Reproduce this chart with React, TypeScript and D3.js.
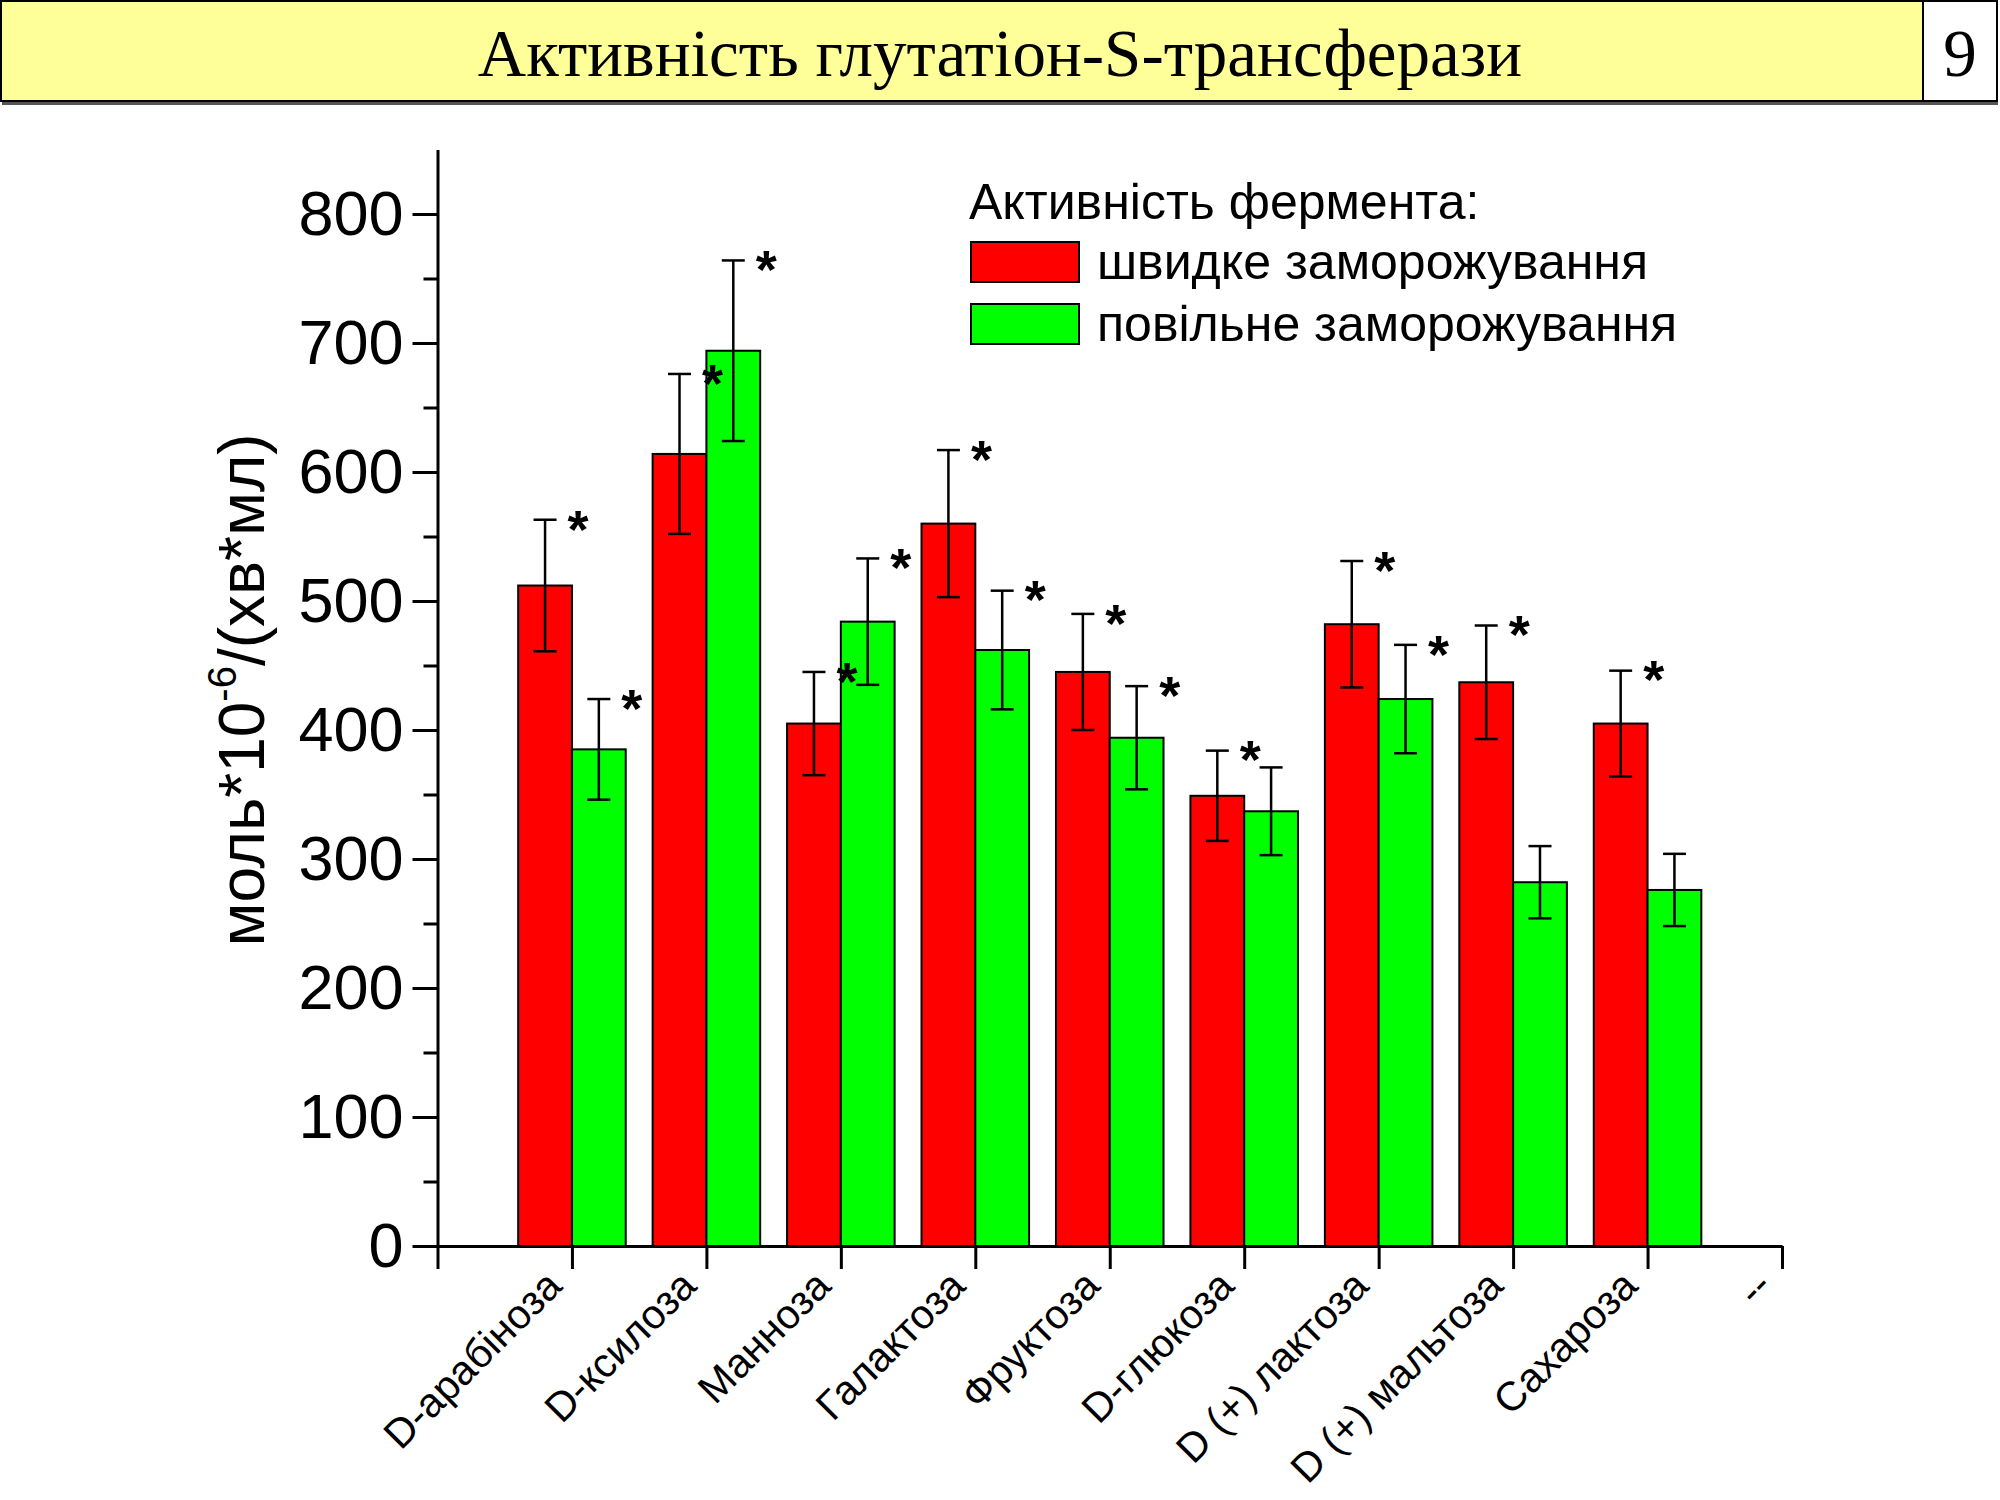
import React, { useEffect, useRef } from 'react';
import * as d3 from 'd3';

const categories = [
  'D-арабіноза', 'D-ксилоза', 'Манноза', 'Галактоза', 'Фруктоза',
  'D-глюкоза', 'D (+) лактоза', 'D (+) мальтоза', 'Сахароза', '--',
];
const fastValues = [512, 614, 405, 560, 445, 349, 482, 437, 405];
const fastErrors = [51, 62, 40, 57, 45, 35, 49, 44, 41];
const fastSignificant = [true, true, true, true, true, true, true, true, true];
const slowValues = [385, 694, 484, 462, 394, 337, 424, 282, 276];
const slowErrors = [39, 70, 49, 46, 40, 34, 42, 28, 28];
const slowSignificant = [true, true, true, true, true, false, true, false, false];
const yTicks = [0, 100, 200, 300, 400, 500, 600, 700, 800];
const yMinorTicks = [50, 150, 250, 350, 450, 550, 650, 750];

const seriesNames = ['швидке заморожування', 'повільне заморожування'];
const seriesColors = ['#ff0000', '#00ff00'];

const titleText = 'Активність глутатіон-S-трансферази';
const slideNumber = '9';
const legendTitle = 'Активність фермента:';

const SANS = '"Liberation Sans", Arial, sans-serif';
const SERIF = '"Liberation Serif", "Times New Roman", serif';

export default function App() {
  const ref = useRef<SVGSVGElement>(null);

  useEffect(() => {
    if (!ref.current) return;
    const svg = d3.select(ref.current);
    svg.selectAll('*').remove();

    const W = 2000;
    const H = 1500;
    svg.attr('width', W).attr('height', H);
    svg.append('rect').attr('width', W).attr('height', H).attr('fill', '#ffffff');

    // title bar
    svg.append('rect')
      .attr('x', 2).attr('y', 101).attr('width', 1996).attr('height', 4)
      .attr('fill', '#555555');
    svg.append('rect')
      .attr('x', 1).attr('y', 1).attr('width', 1922).attr('height', 100)
      .attr('fill', '#ffff99').attr('stroke', '#000').attr('stroke-width', 2);
    svg.append('rect')
      .attr('x', 1923).attr('y', 1).attr('width', 74).attr('height', 100)
      .attr('fill', '#ffffff').attr('stroke', '#000').attr('stroke-width', 2);
    svg.append('text')
      .attr('x', 1000).attr('y', 76)
      .attr('text-anchor', 'middle')
      .attr('font-family', SERIF).attr('font-size', 67)
      .text(titleText);
    svg.append('text')
      .attr('x', 1960).attr('y', 76)
      .attr('text-anchor', 'middle')
      .attr('font-family', SERIF).attr('font-size', 67)
      .text(slideNumber);

    // scales
    const x = d3.scaleLinear().domain([0, categories.length]).range([437.5, 1782]);
    const y = d3.scaleLinear().domain([0, 850]).range([1246, 149.5]);
    const barW = x(0.4) - x(0);

    const g = svg.append('g');

    const series = [
      { values: fastValues, errors: fastErrors, sig: fastSignificant, offset: -0.4, color: seriesColors[0] },
      { values: slowValues, errors: slowErrors, sig: slowSignificant, offset: 0, color: seriesColors[1] },
    ];

    // bars + error bars
    series.forEach(s => {
      const sg = g.append('g');
      sg.selectAll('rect')
        .data(s.values)
        .enter().append('rect')
        .attr('x', (d, i) => x(i + 1 + s.offset))
        .attr('y', d => y(d))
        .attr('width', barW)
        .attr('height', d => y(0) - y(d))
        .attr('fill', s.color)
        .attr('stroke', '#000')
        .attr('stroke-width', 2);

      s.values.forEach((v, i) => {
        const cx = x(i + 1 + s.offset) + barW / 2;
        const top = y(v + s.errors[i]);
        const bot = y(v - s.errors[i]);
        const eg = sg.append('g').attr('stroke', '#000').attr('stroke-width', 2.5);
        eg.append('line').attr('x1', cx).attr('x2', cx).attr('y1', top).attr('y2', bot);
        eg.append('line').attr('x1', cx - 11.5).attr('x2', cx + 11.5).attr('y1', top).attr('y2', top);
        eg.append('line').attr('x1', cx - 11.5).attr('x2', cx + 11.5).attr('y1', bot).attr('y2', bot);
      });
    });

    // significance marks, drawn on top of all bars
    const marks = g.append('g');
    series.forEach(s => {
      s.values.forEach((v, i) => {
        if (!s.sig[i]) return;
        const cx = x(i + 1 + s.offset) + barW / 2;
        const top = y(v + s.errors[i]);
        marks.append('text')
          .attr('x', cx + 33)
          .attr('y', top - 3 + 0.57 * 54)
          .attr('text-anchor', 'middle')
          .attr('font-family', SANS)
          .attr('font-weight', 'bold')
          .attr('font-size', 54)
          .text('*');
      });
    });

    // y axis
    const yAxis = g.append('g')
      .attr('transform', `translate(${x(0)},0)`)
      .call(d3.axisLeft(y).tickValues(yTicks).tickSize(25).tickSizeOuter(0).tickPadding(9));
    yAxis.select('.domain').attr('stroke-width', 3);
    yAxis.selectAll('.tick line').attr('stroke-width', 3);
    yAxis.selectAll('.tick text')
      .attr('font-family', SANS).attr('font-size', 63).attr('fill', '#000');

    const yMinor = g.append('g')
      .attr('transform', `translate(${x(0)},0)`)
      .call(d3.axisLeft(y).tickValues(yMinorTicks).tickSize(14).tickFormat(() => ''));
    yMinor.select('.domain').remove();
    yMinor.selectAll('.tick line').attr('stroke-width', 3);

    // x axis
    const xAxis = g.append('g')
      .attr('transform', `translate(0,${y(0)})`)
      .call(d3.axisBottom(x).tickValues(d3.range(0, categories.length + 1)).tickSize(23).tickSizeOuter(0).tickFormat(() => ''));
    xAxis.select('.domain').attr('stroke-width', 3);
    xAxis.selectAll('.tick line').attr('stroke-width', 3);

    g.selectAll('.xlabel')
      .data(categories)
      .enter().append('text')
      .attr('class', 'xlabel')
      .attr('transform', (d, i) => `translate(${x(i + 1) - 8},${y(0) + 42}) rotate(-45)`)
      .attr('text-anchor', 'end')
      .attr('font-family', SANS)
      .attr('font-size', 41)
      .text(d => d);

    // y label
    const yl = g.append('text')
      .attr('transform', `translate(264,690) rotate(-90)`)
      .attr('text-anchor', 'middle')
      .attr('font-family', SANS)
      .attr('font-size', 64);
    yl.append('tspan').text('моль*10');
    yl.append('tspan').attr('font-size', 40).attr('dy', -28).text('-6');
    yl.append('tspan').attr('dy', 28).text('/(хв*мл)');

    // legend
    const lg = svg.append('g');
    lg.append('text')
      .attr('x', 969).attr('y', 219)
      .attr('font-family', SANS).attr('font-size', 50)
      .text(legendTitle);
    seriesNames.forEach((name, i) => {
      const top = 242 + i * 62;
      lg.append('rect')
        .attr('x', 971).attr('y', top).attr('width', 108).attr('height', 40)
        .attr('fill', seriesColors[i]).attr('stroke', '#000').attr('stroke-width', 2);
      lg.append('text')
        .attr('x', 1097).attr('y', top + 37)
        .attr('font-family', SANS).attr('font-size', 50)
        .text(name);
    });
  }, []);

  return (
    <div style={{ position: 'absolute', left: 0, top: 0 }}>
      <svg ref={ref}></svg>
    </div>
  );
}
